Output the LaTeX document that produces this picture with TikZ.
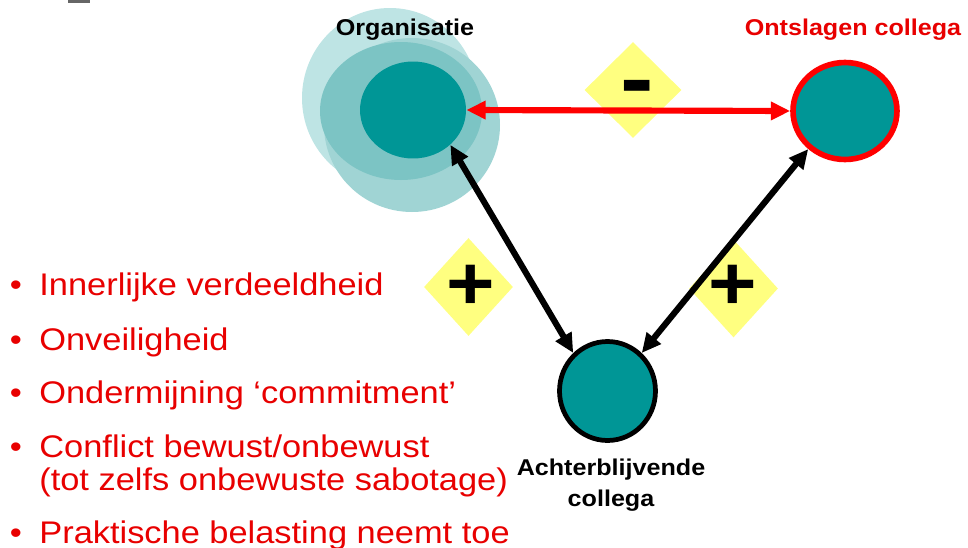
\documentclass[tikz,border=0pt]{standalone}
\usepackage{fontspec}
\setmainfont[FakeStretch=1.1]{Liberation Sans}
\usepackage{tikz}
\usetikzlibrary{shapes.geometric}
\usetikzlibrary{arrows.meta}
\definecolor{tealdark}{RGB}{0,150,150}
\definecolor{tealmid}{RGB}{124,196,196}
\definecolor{teallight}{RGB}{160,212,212}
\definecolor{tealpale}{RGB}{190,228,228}
\definecolor{signyellow}{RGB}{255,255,128}
\definecolor{slidered}{RGB}{232,0,0}
\newcommand{\labfont}{\bfseries\fontsize{13}{15}\selectfont}
\newcommand{\listfont}{\fontsize{17.8}{20}\selectfont}

\begin{document}
\begin{tikzpicture}[x=0.02cm,y=-0.02cm,
  blob/.style={ellipse, fill=tealdark, inner sep=0pt},
  sign/.style={diamond, fill=signyellow, inner sep=0pt},
  signtxt/.style={inner sep=0pt, font=\bfseries\fontsize{43}{43}\selectfont},
  link/.style={line width=3.5pt, {Triangle[length=11pt,width=10pt]}-{Triangle[length=11pt,width=10pt]}},
  item/.style={inner sep=0pt, anchor=base west, text=slidered, font=\listfont}]
  \useasboundingbox (0,0) rectangle (968,548);
  \fill[gray!80!black] (68,0) rectangle (90,2.5); % cut-off piece at the top

  % halo round the organisation
  \fill[tealpale] (390,98) ellipse [x radius=88, y radius=90];
  \fill[teallight] (412,125) ellipse [x radius=88, y radius=87];
  \fill[tealmid] (401,111) ellipse [x radius=81, y radius=69];

  % the three parties
  \node[blob, minimum width=2.12cm, minimum height=1.94cm] (org) at (413,110) {};
  \node[blob, draw=red, line width=3.2pt, minimum width=2.08cm, minimum height=1.94cm] (ontslagen) at (845,111) {};
  \node[blob, draw=black, line width=2.7pt, minimum width=1.92cm, minimum height=1.98cm] (achter) at (607.5,391) {};
  \node[font=\labfont] (orglbl) at (405,30) {Organisatie};
  \node[font=\labfont, text=slidered] (ontslagenlbl) at (853,30) {Ontslagen collega};
  \node[font=\labfont, align=center] (achterlbl) at (611,485) {Achterblijvende\\[3pt]collega};

  % signs on the relations
  \node[sign, minimum width=1.94cm, minimum height=1.92cm] (dmin) at (633,90) {};
  \node[sign, minimum width=1.78cm, minimum height=1.96cm] (dplusl) at (468.5,287) {};
  \node[sign, minimum width=1.78cm, minimum height=1.96cm] (dplusr) at (733.5,288.5) {};

  % relations
  \draw[link, red] (org.east) -- (ontslagen.west);
  \draw[link] (org.317) -- (achter.132);
  \draw[link] (ontslagen.226) -- (achter.48);

  \node[signtxt, font=\bfseries\fontsize{52}{52}\selectfont, anchor=base] (minus) at (637,109) {-};
  \node[signtxt] (plusl) at (471,287) {+};
  \node[signtxt] (plusr) at (733,287) {+};

  % list of effects
  \foreach \y/\t [count=\n] in {295/Innerlijke verdeeldheid, 350/Onveiligheid,
      403/Ondermijning ‘commitment’, 457/{Conflict bewust/onbewust},
      543/Praktische belasting neemt toe} {
    \node[item, anchor=base] (bul\n) at (16,\y) {\textbullet};
    \node[item] (item\n) at (39,\y) {\t};
  }
  \node[item] (item4b) at (39,490) {(tot zelfs onbewuste sabotage)};
\end{tikzpicture}
\end{document}
